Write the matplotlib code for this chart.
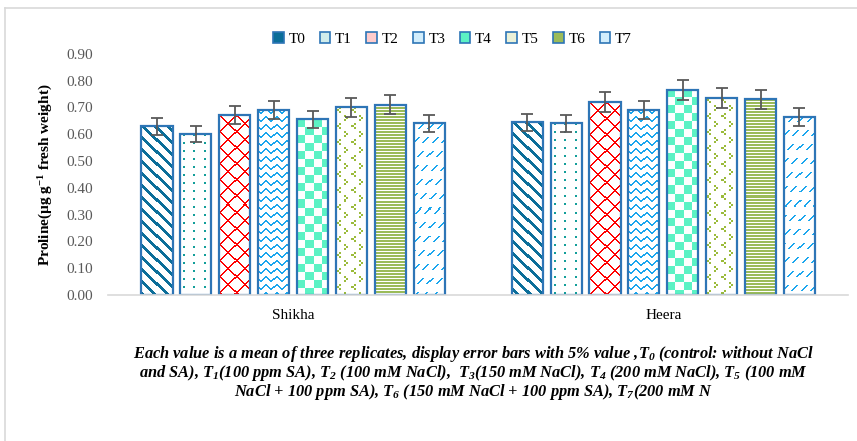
import numpy as np
import matplotlib
matplotlib.use("Agg")
import matplotlib.pyplot as plt
from matplotlib.colors import to_rgba
from matplotlib.patches import Patch
from matplotlib.lines import Line2D

plt.rcParams['font.family'] = ['Liberation Serif', 'DejaVu Serif']
plt.rcParams['mathtext.fontset'] = 'custom'
plt.rcParams['mathtext.rm'] = 'Liberation Serif:bold:italic'
plt.rcParams['mathtext.it'] = 'Liberation Serif:bold:italic'
plt.rcParams['mathtext.bf'] = 'Liberation Serif:bold:italic'

# data
varieties = ['Shikha', 'Heera']
treatments = ['T0', 'T1', 'T2', 'T3', 'T4', 'T5', 'T6', 'T7']
shikha = [0.63, 0.60, 0.67, 0.69, 0.655, 0.70, 0.71, 0.64]
heera = [0.645, 0.64, 0.72, 0.69, 0.765, 0.735, 0.73, 0.665]
err_frac = 0.05
yticks = [0.0, 0.1, 0.2, 0.3, 0.4, 0.5, 0.6, 0.7, 0.8, 0.9]

colors = ['#0B6E99', '#139E9A', '#FF0000', '#1AA6EE',
          '#5CF2C4', '#9BBB3B', '#9BBB59', '#1AA6EE']
outline = '#2E75B6'


def pattern(kind, h, w):
    # boolean mask, row 0 at the top of the bar
    r, c = np.mgrid[0:h, 0:w]
    if kind == 0:
        return ((c - r) % 12) < 4
    if kind == 1:
        return ((r % 8) < 2) & (((c - 3) % 10) < 2)
    if kind == 2:
        return (((c + r) % 16) < 2) | (((c - r) % 16) < 2)
    if kind == 3:
        wave = np.round(1.6 * np.sin(2 * np.pi * c / 10)).astype(int)
        return ((r - wave) % 8) < 2
    if kind == 4:
        return ((r // 8 + c // 8) % 2) == 0
    if kind == 5:
        rr, cc = r % 16, c % 14
        m = ((rr == 0) | (rr == 1) | (rr == 4) | (rr == 5)) & ((cc == 3) | (cc == 4))
        m |= ((rr == 2) | (rr == 3)) & ((cc == 1) | (cc == 2))
        m |= ((rr == 8) | (rr == 9) | (rr == 12) | (rr == 13)) & ((cc == 8) | (cc == 9))
        m |= ((rr == 10) | (rr == 11)) & ((cc == 10) | (cc == 11))
        return m
    if kind == 6:
        return (r % 3) < 2
    if kind == 7:
        return (((c + r) % 9) < 2) & ((r % 14) < 6)
    return np.zeros((h, w), bool)


fig = plt.figure(figsize=(8.57, 4.41), dpi=100)
ax = fig.add_axes([0.126, 0.331, 0.864, 0.547])

x = np.arange(len(varieties))
step = 0.105
width = 0.084
data = np.array([shikha, heera])
px_x = 741 / 2.0      # pixels per x unit
px_y = 241 / 0.9      # pixels per y unit

handles = []
for i, t in enumerate(treatments):
    vals = data[:, i]
    pos = x + (i - 3.5) * step
    fill = ax.bar(pos, vals, width, color='white', linewidth=0, zorder=1)
    rgba = np.array(to_rgba(colors[i]))
    for b in fill:
        bx, bw, bh = b.get_x(), b.get_width(), b.get_height()
        h = int(round(bh * px_y))
        w = int(round(bw * px_x))
        mask = pattern(i, h, w)
        img = np.ones((h, w, 4))
        img[mask] = rgba
        im = ax.imshow(img, extent=(bx, bx + bw, 0, bh), origin='upper',
                       aspect='auto', interpolation='nearest', zorder=1.5)
        im.set_clip_path(b)
    ax.bar(pos, vals, width, color='none', edgecolor=outline, linewidth=1.6, zorder=2)
    ax.errorbar(pos, vals, yerr=vals * err_frac, fmt='none', ecolor='#595959',
                elinewidth=1.3, capsize=4, capthick=1.3, zorder=3)
    if i in (0, 4, 6):
        face = colors[i]
    else:
        face = tuple(v * 0.2 + 0.8 for v in rgba[:3])
    handles.append(Patch(facecolor=face, edgecolor=outline, linewidth=1.2, label=t))

ax.set_xlim(-0.5, 1.5)
ax.set_ylim(0, 0.9)
ax.set_yticks(yticks)
ax.set_yticklabels([f'{v:.2f}' for v in yticks], color='#595959', fontsize=11)
ax.set_xticks(x)
ax.set_xticklabels(varieties, fontsize=11)
ax.tick_params(length=0, pad=10)
ax.tick_params(axis='y', pad=11)
for s in ['top', 'right', 'left']:
    ax.spines[s].set_visible(False)
ax.spines['bottom'].set_color('#D9D9D9')
ax.spines['bottom'].set_linewidth(1.2)
ax.set_ylabel('Proline(µg g$^{\\mathregular{-1}}$ fresh weight)', fontsize=11,
              fontweight='bold', labelpad=9)
ax.yaxis.label.set_math_fontfamily('dejavuserif')

fig.legend(handles=handles, loc='center', bbox_to_anchor=(0.528, 0.912), ncol=8,
           frameon=False, fontsize=11, handlelength=0.7, handleheight=0.7,
           handletextpad=0.3, columnspacing=0.95)

caption = ('Each value is a mean of three replicates, display error bars with 5% value ,$T_0$ (control: without NaCl\n'
           'and SA), $T_1$(100 ppm SA), $T_2$ (100 mM NaCl),  $T_3$(150 mM NaCl), $T_4$ (200 mM NaCl), $T_5$ (100 mM\n'
           'NaCl + 100 ppm SA), $T_6$ (150 mM NaCl + 100 ppm SA), $T_7$(200 mM N')
fig.text(0.553, 0.154, caption, ha='center', va='center', fontsize=11.8,
         fontweight='bold', fontstyle='italic', linespacing=0.9)

# frame lines
fig.add_artist(Line2D([0.006, 0.006], [0, 0.982], color='#D9D9D9', lw=1.2, transform=fig.transFigure))
fig.add_artist(Line2D([0.006, 1], [0.982, 0.982], color='#D9D9D9', lw=1.2, transform=fig.transFigure))

fig.savefig('out.png', dpi=100)
